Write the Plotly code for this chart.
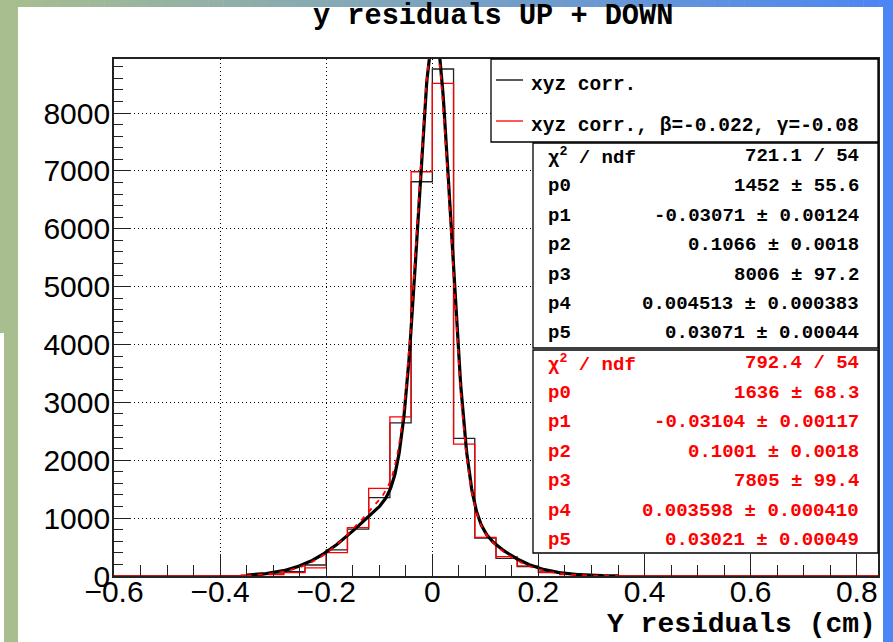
import numpy as np
import plotly.graph_objects as go

# ---------------- data ----------------
bin_start = -0.6
bin_width = 0.04
n_bins = 36

black_counts = [0, 0, 0, 0, 0, 5, 15, 35, 75, 190, 450, 810, 1353, 2646, 6812, 8760,
                2379, 655, 305, 161, 70, 35, 15, 5, 2, 0, 0, 0, 0, 0, 0, 0, 0, 0, 0, 0]
red_counts = [0, 0, 0, 0, 0, 3, 10, 25, 60, 140, 403, 835, 1515, 2750, 6985, 8512,
              2280, 668, 334, 175, 60, 25, 10, 4, 1, 0, 0, 0, 0, 0, 0, 0, 0, 0, 0, 0]

# fit parameters (double gaussian) as printed in the stats boxes
black_fit = [1452, -0.03071, 0.1066, 8006, 0.004513, 0.03071]
red_fit = [1636, -0.03104, 0.1001, 7805, 0.003598, 0.03021]
fit_range = [-0.35, 0.35]

legend_labels = ["xyz corr.", "xyz corr., β=-0.022, γ=-0.08"]
stat_labels = ["χ<sup>2</sup> / ndf", "p0", "p1", "p2", "p3", "p4", "p5"]
black_stat_values = ["721.1 / 54", "1452 ± 55.6", "-0.03071 ± 0.00124", "0.1066 ± 0.0018",
                     "8006 ± 97.2", "0.004513 ± 0.000383", "0.03071 ± 0.00044"]
red_stat_values = ["792.4 / 54", "1636 ± 68.3", "-0.03104 ± 0.00117", "0.1001 ± 0.0018",
                   "7805 ± 99.4", "0.003598 ± 0.000410", "0.03021 ± 0.00049"]

title_text = "y residuals UP + DOWN"
xaxis_title = "Y residuals (cm)"
x_range = [-0.6, 0.84]
y_range = [0, 8933]

# ---------------- geometry helpers ----------------
W, H = 893, 642
L, R, T, B = 114, 878, 59, 576


def px(xp):
    return (xp - L) / (R - L)


def py(yp):
    return (B - yp) / (B - T)


edges = [bin_start + i * bin_width for i in range(n_bins + 1)]


def step(counts):
    return edges, list(counts) + [counts[-1]]


def fitfunc(p, x):
    return (p[0] * np.exp(-0.5 * ((x - p[1]) / p[2]) ** 2)
            + p[3] * np.exp(-0.5 * ((x - p[4]) / p[5]) ** 2))


xf = np.linspace(fit_range[0], fit_range[1], 701)

fig = go.Figure()
bx, by = step(black_counts)
rx, ry = step(red_counts)
fig.add_trace(go.Scatter(x=bx, y=by, mode="lines", line=dict(color="#222222", width=1.3, shape="hv"),
                         hoverinfo="skip", showlegend=False))
fig.add_trace(go.Scatter(x=rx, y=ry, mode="lines", line=dict(color="#ff0000", width=1.3, shape="hv"),
                         hoverinfo="skip", showlegend=False))
fig.add_trace(go.Scatter(x=xf, y=fitfunc(black_fit, xf), mode="lines",
                         line=dict(color="#000000", width=3.2), hoverinfo="skip", showlegend=False))
fig.add_trace(go.Scatter(x=xf, y=fitfunc(red_fit, xf), mode="lines",
                         line=dict(color="#ff0000", width=1.8, dash="5px,6px"), hoverinfo="skip", showlegend=False))

tickfont = dict(family="Liberation Sans", size=30, color="black")
fig.update_xaxes(range=x_range, dtick=0.2, tick0=0, ticks="inside", ticklen=22, tickwidth=1.3,
                 tickcolor="#222", showline=True, linecolor="#222", linewidth=1.6, mirror=True,
                 showgrid=True, gridcolor="black", griddash="1px,3px", gridwidth=1, zeroline=False,
                 tickfont=tickfont, ticklabelstandoff=-12,
                 minor=dict(dtick=0.05, tick0=0, ticks="inside", ticklen=11, tickwidth=1.2,
                            tickcolor="#222", showgrid=False))
fig.update_yaxes(range=y_range, dtick=1000, tick0=0, ticks="inside", ticklen=17, tickwidth=1.3,
                 tickcolor="#222", showline=True, linecolor="#222", linewidth=1.6, mirror=True,
                 showgrid=True, gridcolor="black", griddash="1px,3px", gridwidth=1, zeroline=False,
                 tickfont=tickfont, ticklabelstandoff=-4,
                 minor=dict(dtick=200, tick0=0, ticks="inside", ticklen=9, tickwidth=1.2,
                            tickcolor="#222", showgrid=False))

shapes = []
# background decoration (screenshot frame)
green = "rgb(168,190,143)"
blue = "rgb(76,134,244)"
shapes.append(dict(type="rect", xref="paper", yref="paper", x0=px(0), x1=px(18), y0=py(0), y1=py(333),
                   fillcolor=green, line=dict(width=0), layer="below"))
shapes.append(dict(type="rect", xref="paper", yref="paper", x0=px(4), x1=px(18), y0=py(333), y1=py(H),
                   fillcolor=green, line=dict(width=0), layer="below"))
shapes.append(dict(type="rect", xref="paper", yref="paper", x0=px(883), x1=px(W), y0=py(0), y1=py(H),
                   fillcolor=blue, line=dict(width=0), layer="below"))
n_grad = 60
c0 = np.array([168, 190, 143])
c1 = np.array([76, 134, 244])
for i in range(n_grad):
    f = i / (n_grad - 1)
    c = (c0 * (1 - f) + c1 * f).astype(int)
    x0 = i * W / n_grad
    x1 = (i + 1) * W / n_grad + 0.5
    shapes.append(dict(type="rect", xref="paper", yref="paper", x0=px(x0), x1=px(x1), y0=py(0), y1=py(7),
                       fillcolor=f"rgb({c[0]},{c[1]},{c[2]})", line=dict(width=0), layer="below"))

# legend box
shapes.append(dict(type="rect", xref="paper", yref="paper", x0=px(491), x1=px(878), y0=py(59), y1=py(142),
                   fillcolor="white", line=dict(color="black", width=1.3), layer="above"))
shapes.append(dict(type="line", xref="paper", yref="paper", x0=px(496), x1=px(523), y0=py(80), y1=py(80),
                   line=dict(color="black", width=1.3), layer="above"))
shapes.append(dict(type="line", xref="paper", yref="paper", x0=px(496), x1=px(523), y0=py(121), y1=py(121),
                   line=dict(color="red", width=1.3), layer="above"))
# stats boxes
shapes.append(dict(type="rect", xref="paper", yref="paper", x0=px(533), x1=px(878), y0=py(143), y1=py(348),
                   fillcolor="white", line=dict(color="black", width=1.3), layer="above"))
shapes.append(dict(type="rect", xref="paper", yref="paper", x0=px(533), x1=px(878), y0=py(350), y1=py(553),
                   fillcolor="white", line=dict(color="black", width=1.3), layer="above"))

annotations = []
mono = "Liberation Mono"
annotations.append(dict(text=f"<b>{title_text}</b>", xref="paper", yref="paper", x=px(493), y=py(16),
                        xanchor="center", yanchor="middle", showarrow=False,
                        font=dict(family=mono, size=28.6, color="black")))
annotations.append(dict(text=f"<b>{xaxis_title}</b>", xref="paper", yref="paper", x=px(878), y=py(624),
                        xanchor="right", yanchor="middle", showarrow=False,
                        font=dict(family=mono, size=28, color="black")))
for lab, yc, col in zip(legend_labels, [85, 126], ["black", "black"]):
    annotations.append(dict(text=f"<b>{lab}</b>", xref="paper", yref="paper", x=px(529), y=py(yc),
                            xanchor="left", yanchor="middle", showarrow=False,
                            font=dict(family=mono, size=19.5, color=col)))

row_black = [156, 186, 215.5, 245, 274.5, 304, 333]
row_red = [363, 393, 422, 451.5, 481, 511, 540]
for labs, vals, rows, col in [(stat_labels, black_stat_values, row_black, "black"),
                              (stat_labels, red_stat_values, row_red, "#ff0000")]:
    for lab, val, yc in zip(labs, vals, rows):
        annotations.append(dict(text=f"<b>{lab}</b>", xref="paper", yref="paper", x=px(546), y=py(yc),
                                xanchor="left", yanchor="middle", showarrow=False,
                                font=dict(family=mono, size=19, color=col)))
        annotations.append(dict(text=f"<b>{val}</b>", xref="paper", yref="paper", x=px(861), y=py(yc),
                                xanchor="right", yanchor="middle", showarrow=False,
                                font=dict(family=mono, size=19, color=col)))

fig.update_layout(width=W, height=H, margin=dict(l=L, r=W - R, t=T, b=H - B, pad=0),
                  paper_bgcolor="white", plot_bgcolor="white", showlegend=False,
                  shapes=shapes, annotations=annotations)

fig.write_html("out.html")
